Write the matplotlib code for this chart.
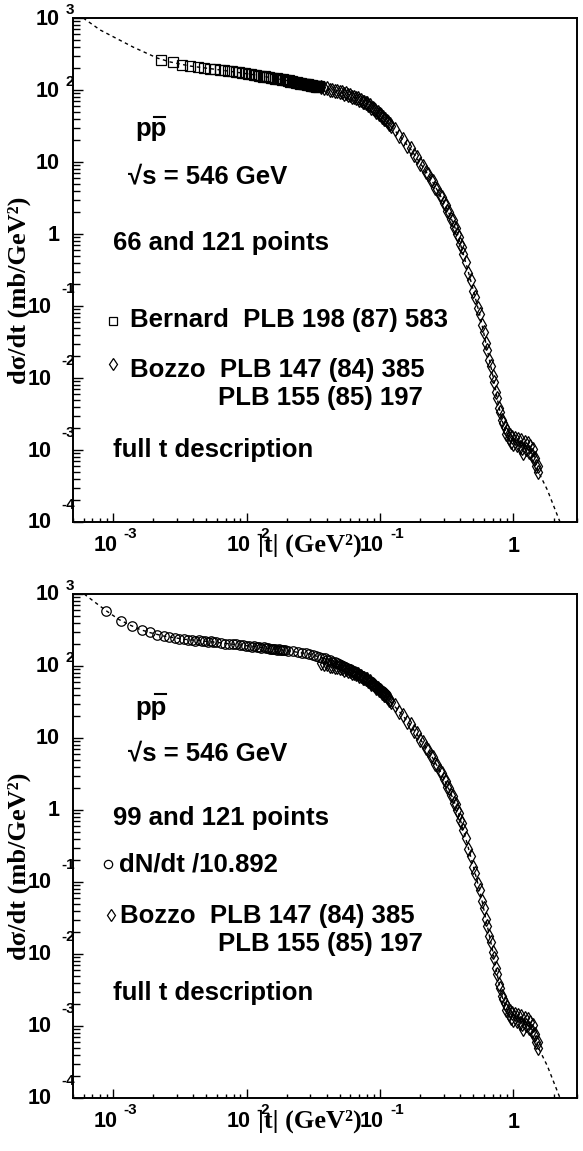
import numpy as np
import matplotlib
matplotlib.use('Agg')
import matplotlib.pyplot as plt
import matplotlib.transforms as mtransforms
from matplotlib.lines import Line2D
from matplotlib.ticker import LogLocator, NullFormatter

# ---------------- data ----------------
# Bernard PLB 198 (87) 583 -- open squares, top panel
bern_t = [0.0023, 0.0028, 0.0033, 0.0038, 0.0043, 0.0048, 0.0053, 0.0058, 0.0063, 0.0068,
          0.0073, 0.0078, 0.0083, 0.0088, 0.0093, 0.0098, 0.0103, 0.0108, 0.0113, 0.0118,
          0.0123, 0.0128, 0.0133, 0.0138, 0.0143, 0.0148, 0.0153, 0.0158, 0.0163, 0.0168,
          0.0173, 0.0178, 0.0183, 0.0188, 0.0193, 0.0198, 0.0203, 0.0208, 0.0213, 0.0218,
          0.0223, 0.0228, 0.0233, 0.0238, 0.0243, 0.0248, 0.0253, 0.0258, 0.0263, 0.0268,
          0.0273, 0.0278, 0.0283, 0.0288, 0.0293, 0.0298, 0.0303, 0.0308, 0.0313, 0.0318,
          0.0323, 0.0328, 0.0333, 0.0338, 0.0343, 0.0348]
bern_y = [261, 245, 226, 216, 206, 203, 195, 194, 188, 188,
          182, 182, 176, 177, 171, 172, 167, 167, 162, 163,
          157, 158, 153, 154, 150, 151, 146, 148, 144, 145,
          141, 143, 138, 140, 136, 138, 134, 136, 131, 133,
          129, 131, 127, 129, 125, 127, 123, 125, 121, 123,
          120, 121, 118, 120, 116, 118, 115, 117, 114, 115,
          112, 114, 111, 113, 110, 112]

# Bozzo PLB 147 (84) 385 + PLB 155 (85) 197 -- open diamonds, both panels
bozzo_t = [0.036, 0.038, 0.040, 0.042, 0.044, 0.046, 0.048, 0.050, 0.052, 0.054,
           0.056, 0.058, 0.060, 0.062, 0.064, 0.066, 0.068, 0.070, 0.072, 0.074,
           0.076, 0.078, 0.080, 0.082, 0.084, 0.086, 0.088, 0.090, 0.092, 0.094,
           0.096, 0.098, 0.100, 0.102, 0.104, 0.106, 0.108, 0.110, 0.112, 0.114,
           0.116, 0.118, 0.120,
           0.13, 0.14, 0.15, 0.16, 0.17, 0.18, 0.19, 0.20, 0.21, 0.22,
           0.23, 0.24, 0.25, 0.26, 0.27, 0.28, 0.29, 0.30, 0.31, 0.32,
           0.33, 0.34, 0.35, 0.36, 0.37, 0.38, 0.39, 0.40, 0.41, 0.42,
           0.44, 0.46, 0.48, 0.50, 0.52, 0.54, 0.56, 0.58, 0.60, 0.62,
           0.64, 0.66, 0.68, 0.70, 0.72, 0.74, 0.76, 0.78, 0.80, 0.82, 0.84,
           0.86, 0.88, 0.90, 0.92, 0.94, 0.96, 0.98, 1.00, 1.03, 1.06,
           1.09, 1.12, 1.14, 1.16, 1.19, 1.22, 1.25, 1.28, 1.31, 1.34,
           1.37, 1.40, 1.43, 1.46, 1.49, 1.52, 1.54]
bozzo_y = [111, 106, 105, 101, 101, 97, 97, 93, 93, 89,
           90, 86, 85, 81, 81, 77, 77, 73, 73, 69,
           69, 66, 65, 62, 61, 57, 57, 54, 53, 50,
           49, 47, 46, 45, 42, 42, 39, 39, 37, 36,
           34, 34, 32,
           28.5, 23.0, 20.6, 16.8, 15.4, 12.6, 11.6, 9.4, 8.8, 7.3,
           6.9, 5.7, 5.4, 4.4, 4.2, 3.45, 3.3, 2.7, 2.55, 2.1,
           2.0, 1.64, 1.56, 1.27, 1.21, 0.99, 0.91, 0.72, 0.65, 0.52,
           0.41, 0.29, 0.23, 0.162, 0.133, 0.095, 0.078, 0.055, 0.044, 0.0305,
           0.0246, 0.0178, 0.0148, 0.0106, 0.0088, 0.0063, 0.0052, 0.0038, 0.0034, 0.0026, 0.0024,
           2.1e-3, 1.65e-3, 1.85e-3, 1.45e-3, 1.62e-3, 1.30e-3, 1.50e-3, 1.22e-3, 1.45e-3, 1.18e-3,
           1.40e-3, 1.10e-3, 1.38e-3, 1.05e-3, 9.0e-4, 1.30e-3, 1.02e-3, 1.24e-3, 9.5e-4, 1.12e-3,
           8.6e-4, 1.02e-3, 7.6e-4, 7.8e-4, 6.0e-4, 5.9e-4, 4.9e-4]

# dN/dt / 10.892 -- open circles, bottom panel
dndt_t = [0.00089, 0.00114, 0.00139, 0.00164, 0.00189, 0.00214, 0.00239, 0.00264, 0.00289, 0.00314,
          0.00339, 0.00364, 0.00389, 0.00414, 0.00439, 0.00464, 0.00489, 0.00514, 0.00539, 0.00564,
          0.00589,
          0.0064, 0.0069, 0.0074, 0.0079, 0.0084, 0.0089, 0.0094, 0.0099, 0.0104, 0.0109,
          0.0114, 0.0119, 0.0124, 0.0129, 0.0134, 0.0139, 0.0144, 0.0149, 0.0154, 0.0159,
          0.0164, 0.0169, 0.0174, 0.0179, 0.0184, 0.0189, 0.0194,
          0.0205, 0.0223, 0.0241, 0.0259, 0.0277, 0.0295, 0.0313, 0.0331, 0.0349, 0.0367,
          0.0385, 0.0403, 0.0421, 0.0439, 0.0457, 0.0475, 0.0493, 0.0511, 0.0529, 0.0547,
          0.0565, 0.0583, 0.0601, 0.0619, 0.0637, 0.0655, 0.0673, 0.0691, 0.0709, 0.0727,
          0.0745, 0.0763, 0.0781, 0.0799, 0.0817, 0.0835, 0.0853, 0.0871, 0.0889, 0.0907,
          0.0925, 0.0943, 0.0961, 0.0979, 0.0997, 0.1015, 0.1033, 0.1051, 0.1069, 0.1087,
          0.1105]
dndt_y = [585, 425, 362, 316, 294, 273, 263, 250, 246, 238,
          237, 231, 231, 226, 227, 222, 223, 218, 219, 215,
          217,
          211, 205, 205, 199, 200, 194, 195, 190, 191, 186,
          187, 183, 184, 180, 181, 177, 178, 174, 175, 172,
          172, 169, 170, 167, 168, 165, 166,
          164, 159, 157, 152, 150, 146, 143, 138, 135, 130,
          128, 122, 120, 115, 114, 109, 107, 102, 101, 96,
          95, 91, 90, 86, 85, 81, 80, 76, 75, 72,
          71, 68, 67, 64, 63, 60, 60, 57, 56, 54,
          53, 51, 50, 48, 47, 45, 44.5, 43, 42, 40.5,
          39.5]

# fitted curves ("full t description")
fit_top_t = [5.96e-4, 8.0e-4, 1.41e-3, 2.14e-3, 2.68e-3, 3.78e-3, 6.34e-3, 0.0116, 0.0213,
             0.036, 0.057, 0.078, 0.100]
fit_top_y = [1000, 681, 395, 278, 245, 215, 190, 162, 133,
             109, 88, 67, 46]
fit_bot_t = [6.06e-4, 7.5e-4, 8.86e-4, 1.11e-3, 1.36e-3, 1.6e-3, 1.9e-3, 2.4e-3, 3.5e-3, 5.3e-3,
             8.5e-3, 0.0127, 0.0194, 0.030, 0.040, 0.050, 0.060, 0.070, 0.080, 0.100]
fit_bot_y = [1000, 740, 586, 440, 365, 320, 290, 260, 234, 218,
             198, 182, 165, 146, 124, 105, 89.5, 76, 65, 46.4]
fit_tail_t = [0.142, 0.17, 0.2, 0.24, 0.284, 0.33, 0.38, 0.422, 0.45, 0.5,
              0.566, 0.638, 0.708, 0.772, 0.827, 0.886, 0.983, 1.13, 1.3, 1.41,
              1.54, 1.8, 2.175, 2.29]
fit_tail_y = [22.5, 15.0, 9.7, 5.9, 3.4, 1.92, 1.03, 0.52, 0.345, 0.168,
              0.07, 0.0245, 0.0100, 4.3e-3, 2.5e-3, 1.72e-3, 1.38e-3, 1.25e-3, 1.1e-3, 9.1e-4,
              5.0e-4, 2.78e-4, 1.14e-4, 9.0e-5]

y_decades = [-4, -3, -2, -1, 0, 1, 2, 3]
x_decades = [-3, -2, -1, 0]

# ---------------- figure ----------------
W, H = 583, 1151
fig = plt.figure(figsize=(W / 100, H / 100), dpi=100)
SANS = ['Liberation Sans', 'DejaVu Sans']
SERIF = ['Liberation Serif', 'DejaVu Serif']


def fx(x):
    return x / W


def fy(y):
    return 1 - y / H


def shift(tr, dx, dy):
    # offset in pixels (dy > 0 is up)
    return tr + mtransforms.ScaledTranslation(dx / 100, dy / 100, fig.dpi_scale_trans)


def setup(ax):
    ax.set_xscale('log')
    ax.set_yscale('log')
    ax.set_xlim(5e-4, 3.0)
    ax.set_ylim(1e-4, 1e3)
    for axis in (ax.xaxis, ax.yaxis):
        axis.set_major_locator(LogLocator(base=10, numticks=20))
        axis.set_minor_locator(LogLocator(base=10, subs=np.arange(2, 10), numticks=20))
        axis.set_major_formatter(NullFormatter())
        axis.set_minor_formatter(NullFormatter())
    ax.tick_params(which='both', direction='in', top=False, right=False, width=1.0)
    ax.tick_params(axis='y', which='major', length=7.2)
    ax.tick_params(axis='y', which='minor', length=5.0)
    ax.tick_params(axis='x', which='major', length=6.5)
    ax.tick_params(axis='x', which='minor', length=3.2)
    for s in ax.spines.values():
        s.set_linewidth(1.4)

    # ROOT-like tick labels
    ytr = ax.get_yaxis_transform()
    for e in y_decades:
        base = '1' if e == 0 else '10'
        bx = -13 if e >= 0 else -21
        ax.text(0, 10.0 ** e, base, transform=shift(ytr, bx, -1), ha='right', va='center',
                fontsize=15.5, fontweight='bold', family=SANS)
        if e not in (0, 1):
            ex = -7 if e > 0 else -12
            ey = 8 if e > 0 else 17
            ax.text(0, 10.0 ** e, str(e), transform=shift(ytr, ex, ey), ha='left', va='center',
                    fontsize=11, fontweight='bold', family=SANS)
    xtr = ax.get_xaxis_transform()
    for e in x_decades:
        if e == 0:
            ax.text(1.0, 0, '1', transform=shift(xtr, 0, -24.5), ha='center', va='center',
                    fontsize=15.5, fontweight='bold', family=SANS)
        else:
            ax.text(10.0 ** e, 0, '10', transform=shift(xtr, 4, -23.5), ha='right', va='center',
                    fontsize=15.5, fontweight='bold', family=SANS)
            ax.text(10.0 ** e, 0, str(e), transform=shift(xtr, 10, -12), ha='left', va='center',
                    fontsize=11, fontweight='bold', family=SANS)


def curve(ax, head_t, head_y):
    ax.plot(head_t + fit_tail_t, head_y + fit_tail_y, color='black', lw=1.0,
            ls=(0, (2.5, 2.5)))


def label(x, y, s, size=18.5):
    fig.text(fx(x), fy(y), s, fontsize=size, fontweight='bold', family=SANS,
             ha='left', va='baseline')


def glyph(x, y, marker, ms):
    fig.add_artist(Line2D([fx(x)], [fy(y)], transform=fig.transFigure, marker=marker, ms=ms,
                          mfc='none', mec='black', mew=0.9, ls='none'))


def overbar(x0, x1, y):
    fig.add_artist(Line2D([fx(x0), fx(x1)], [fy(y), fy(y)], transform=fig.transFigure,
                          color='black', lw=1.5))


ax_top = fig.add_axes([fx(73), fy(522), 504 / W, 504 / H])
ax_bot = fig.add_axes([fx(73), fy(1098), 504 / W, 504 / H])

for ax in (ax_top, ax_bot):
    setup(ax)

mk = dict(ls='none', mfc='none', mec='black', mew=0.9)
curve(ax_top, fit_top_t, fit_top_y)
ax_top.plot(bern_t, bern_y, marker='s', ms=6.5, **mk)
ax_top.plot(bozzo_t, bozzo_y, marker='d', ms=6.8, **mk)

curve(ax_bot, fit_bot_t, fit_bot_y)
ax_bot.plot(dndt_t, dndt_y, marker='o', ms=6.8, **mk)
ax_bot.plot(bozzo_t, bozzo_y, marker='d', ms=6.8, **mk)

# axis titles
for off in (0, 576):
    fig.text(fx(19), fy(290 + off), 'dσ/dt (mb/GeV²)', rotation=90, ha='center', va='center',
             fontsize=19, fontweight='bold', family=SERIF)
    fig.text(fx(258), fy(545 + off), '|t| (GeV²)', ha='left', va='center',
             fontsize=19, fontweight='bold', family=SERIF)

# top panel annotations
label(135, 136, 'pp')
overbar(154, 165, 117)
label(128, 183, '√s = 546 GeV')
label(113, 250, '66 and 121 points')
glyph(113, 321, 's', 5.5)
label(130, 327, 'Bernard  PLB 198 (87) 583')
glyph(112.5, 364, 'd', 6.5)
label(130, 377, 'Bozzo  PLB 147 (84) 385')
label(218, 405, 'PLB 155 (85) 197')
label(113, 457, 'full t description')

# bottom panel annotations
label(135, 715, 'pp')
overbar(155, 166, 694)
label(128, 760, '√s = 546 GeV')
label(113, 825, '99 and 121 points')
glyph(108, 864, 'o', 6)
label(119, 871, 'dN/dt /10.892')
glyph(110.5, 915, 'd', 6.5)
label(120, 923, 'Bozzo  PLB 147 (84) 385')
label(218, 951, 'PLB 155 (85) 197')
label(113, 1000, 'full t description')

fig.savefig('out.png', dpi=100)
